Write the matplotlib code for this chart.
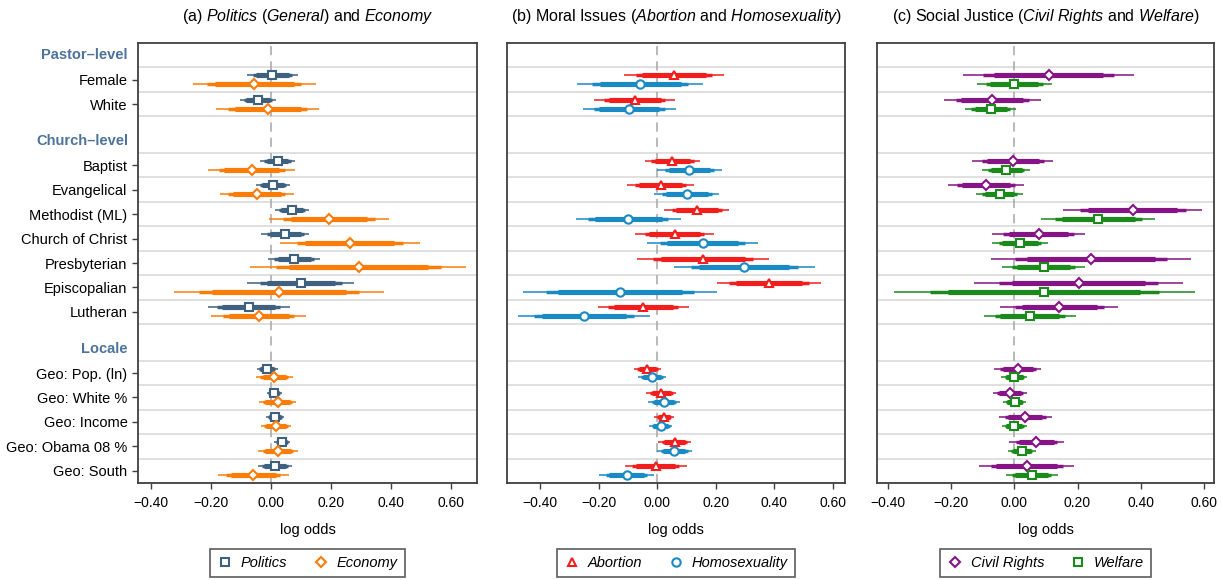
import matplotlib
matplotlib.use("Agg")
import matplotlib.pyplot as plt
import numpy as np

plt.rcParams["font.family"] = ["Liberation Sans", "DejaVu Sans"]
plt.rcParams["mathtext.fontset"] = "custom"
plt.rcParams["mathtext.rm"] = "Liberation Sans"
plt.rcParams["mathtext.it"] = "Liberation Sans:italic"

# rows of the coefficient plot, grouped
group_names = ["Pastor\u2013level", "Church\u2013level", "Locale"]
group_sizes = [2, 7, 5]
row_labels = ["Female", "White",
              "Baptist", "Evangelical", "Methodist (ML)", "Church of Christ",
              "Presbyterian", "Episcopalian", "Lutheran",
              "Geo: Pop. (ln)", "Geo: White %", "Geo: Income",
              "Geo: Obama 08 %", "Geo: South"]

# estimates (log odds) and half-width of the widest (99%) interval
politics_est = [0.005, -0.043, 0.022, 0.008, 0.070, 0.048, 0.078, 0.100, -0.074,
                -0.013, 0.011, 0.014, 0.037, 0.014]
politics_hw = [0.085, 0.060, 0.057, 0.057, 0.058, 0.080, 0.087, 0.178, 0.137,
               0.035, 0.025, 0.030, 0.028, 0.057]
economy_est = [-0.055, -0.011, -0.064, -0.047, 0.194, 0.263, 0.292, 0.026, -0.041,
               0.011, 0.022, 0.017, 0.024, -0.059]
economy_hw = [0.206, 0.172, 0.144, 0.124, 0.200, 0.233, 0.360, 0.350, 0.157,
              0.061, 0.063, 0.051, 0.067, 0.118]

abortion_est = [0.058, -0.077, 0.052, 0.012, 0.135, 0.059, 0.156, 0.381, -0.047,
                -0.034, 0.014, 0.023, 0.059, -0.005]
abortion_hw = [0.171, 0.138, 0.095, 0.115, 0.111, 0.134, 0.226, 0.178, 0.157,
               0.046, 0.051, 0.033, 0.055, 0.105]
homosex_est = [-0.058, -0.095, 0.110, 0.101, -0.099, 0.155, 0.297, -0.128, -0.249,
               -0.018, 0.023, 0.012, 0.058, -0.105]
homosex_hw = [0.215, 0.160, 0.110, 0.111, 0.180, 0.190, 0.241, 0.332, 0.225,
              0.049, 0.056, 0.040, 0.060, 0.093]

civil_est = [0.108, -0.070, -0.005, -0.090, 0.375, 0.077, 0.242, 0.203, 0.142,
             0.011, -0.014, 0.035, 0.070, 0.039]
civil_hw = [0.271, 0.153, 0.128, 0.121, 0.220, 0.147, 0.316, 0.331, 0.186,
            0.074, 0.054, 0.084, 0.086, 0.150]
welfare_est = [0.000, -0.075, -0.026, -0.047, 0.265, 0.018, 0.093, 0.095, 0.049,
               0.000, 0.001, 0.000, 0.023, 0.055]
welfare_hw = [0.119, 0.080, 0.076, 0.073, 0.181, 0.089, 0.131, 0.476, 0.146,
              0.041, 0.036, 0.040, 0.044, 0.082]

panel_titles = [r"(a) $\mathit{Politics\ (General)}$ and $\mathit{Economy}$",
                r"(b) Moral Issues ($\mathit{Abortion}$ and $\mathit{Homosexuality}$)",
                r"(c) Social Justice ($\mathit{Civil\ Rights}$ and $\mathit{Welfare}$)"]
series_names = [("Politics", "Economy"), ("Abortion", "Homosexuality"),
                ("Civil Rights", "Welfare")]
xticks = [-0.4, -0.2, 0.0, 0.2, 0.4, 0.6]

# styles
colors = [("#3e6180", "#fb7d07"), ("#f21d1d", "#1a8ac4"), ("#861486", "#1a8a1a")]
markers = [("s", "D"), ("^", "o"), ("D", "s")]
msizes = {"s": 5.6, "D": 5.4, "^": 6.0, "o": 6.0}
header_color = "#4c739b"
xlims = [(-0.443, 0.687), (-0.513, 0.641), (-0.435, 0.632)]
lefts = [138, 507, 877]
rights = [477, 845, 1214]
W, H = 1222, 580

# row layout: each group gets a header row, then its items
row_y, header_y, grid_y = [], [], []
start = 1.0
for gi, n in enumerate(group_sizes):
    header_y.append(start - 0.5)
    for k in range(n):
        row_y.append(start + 0.5 + k)
    grid_y.extend([start + k for k in range(n + 1)])
    start = start + n + 1.5
row_y = np.array(row_y)
ymax = grid_y[-1]

data = [((politics_est, politics_hw), (economy_est, economy_hw)),
        ((abortion_est, abortion_hw), (homosex_est, homosex_hw)),
        ((civil_est, civil_hw), (welfare_est, welfare_hw))]

fig = plt.figure(figsize=(W / 100, H / 100), dpi=100)

for p in range(3):
    ax = fig.add_axes([lefts[p] / W, 1 - 483 / H, (rights[p] - lefts[p]) / W, 440 / H])
    ax.set_xlim(*xlims[p])
    ax.set_ylim(ymax, 0)
    for g in grid_y:
        ax.axhline(g, color="#dddddd", lw=1.3, zorder=0)
    ax.axvline(0, color="#a5a5a5", lw=1.1, dashes=(6, 4), zorder=1)

    handles = []
    for s, offset in enumerate([-0.18, 0.18]):
        est = np.array(data[p][s][0])
        hw = np.array(data[p][s][1])
        yy = row_y + offset
        c = colors[p][s]
        # 99%, 95%, 90% intervals
        for ratio, lw in [(1.0, 1.1), (0.761, 2.5), (0.639, 3.7)]:
            ax.hlines(yy, est - ratio * hw, est + ratio * hw, color=c, lw=lw,
                      capstyle="butt", zorder=2)
        m = markers[p][s]
        h, = ax.plot(est, yy, ls="none", marker=m, ms=msizes[m], mfc="white",
                     mec=c, mew=1.5, zorder=3, label=series_names[p][s])
        handles.append(h)

    for sp in ax.spines.values():
        sp.set_color("#404040")
        sp.set_linewidth(1.3)

    ax.set_xticks(xticks)
    ax.set_xticklabels([f"{v:.2f}".replace("-", "\u2212") for v in xticks])
    ax.tick_params(axis="x", direction="out", length=4.5, width=1.0,
                   color="#404040", labelsize=10, pad=5)
    ax.set_xlabel("log odds", fontsize=10.5, labelpad=9)

    if p == 0:
        ax.set_yticks(row_y)
        ax.set_yticklabels(row_labels)
        ax.tick_params(axis="y", direction="out", length=4.5, width=1.0,
                       color="#404040", labelsize=10.5, pad=3)
        for name, y in zip(group_names, header_y):
            ax.text(-0.0295, y, name, transform=ax.get_yaxis_transform(),
                    ha="right", va="center", fontsize=10.5, fontweight="bold",
                    color=header_color)
    else:
        ax.set_yticks([])

    ax.set_title(panel_titles[p], fontsize=11.5, pad=16)

    leg = ax.legend(handles=handles, loc="center", bbox_to_anchor=(0.5, -0.182),
                    ncol=2, frameon=True, fancybox=False,
                    prop={"style": "italic", "size": 10.5}, handlelength=1.0,
                    handletextpad=0.6, columnspacing=1.8, borderpad=0.5)
    leg.get_frame().set_edgecolor("#333333")
    leg.get_frame().set_linewidth(1.2)

fig.savefig("out.png", dpi=100)
